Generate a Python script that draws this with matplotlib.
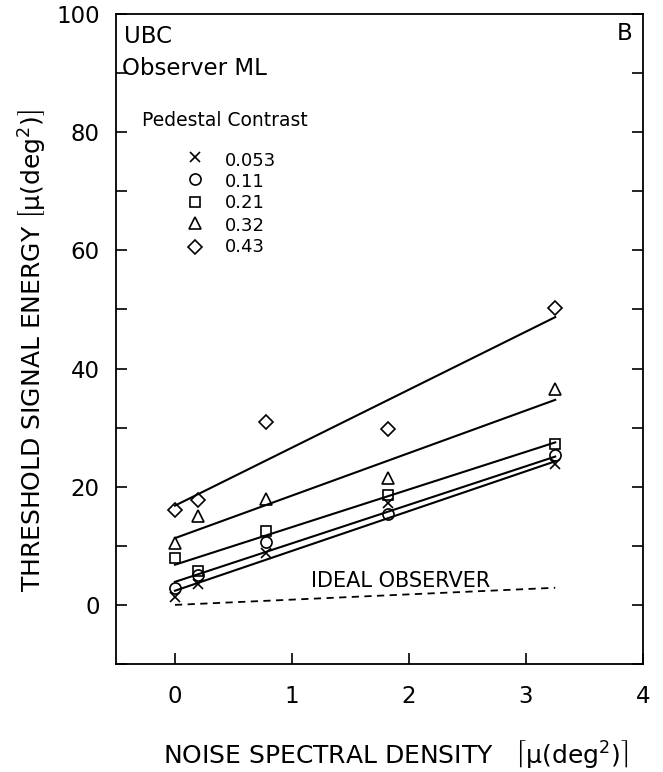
import numpy as np
import matplotlib
matplotlib.use('Agg')
import matplotlib.pyplot as plt
from matplotlib.ticker import MultipleLocator

plt.rcParams['font.family'] = ['DejaVu Sans']
plt.rcParams['mathtext.fontset'] = 'dejavusans'

# datos
ruido = [0.0, 0.2, 0.78, 1.82, 3.25]
contrastes = ['0.053', '0.11', '0.21', '0.32', '0.43']
marcadores = ['x', 'o', 's', '^', 'D']
tamanos = [6.5, 8, 7.5, 8.5, 7]
umbral_053 = [1.4, 3.6, 8.7, 17.3, 23.8]
umbral_011 = [2.9, 5.0, 10.6, 15.4, 25.3]
umbral_021 = [7.9, 5.8, 12.5, 18.6, 27.3]
umbral_032 = [10.4, 15.0, 18.0, 21.4, 36.6]
umbral_043 = [16.0, 17.8, 31.0, 29.7, 50.2]
umbrales = [umbral_053, umbral_011, umbral_021, umbral_032, umbral_043]

# rectas ajustadas (extremos en x=0 y x=3.25)
recta_x = [0.0, 3.25]
rectas_y = [[2.4, 24.3], [3.9, 25.1], [6.8, 27.5], [11.3, 34.7], [16.8, 48.7]]
ideal_y = [0.0, 2.9]

# leyenda
ley_marca_y = [75.8, 72.1, 68.2, 64.6, 60.6]
ley_texto_y = [74.3, 70.7, 67.2, 63.3, 59.7]

figura = plt.figure(figsize=(6.63, 7.72), dpi=100)
lienzo = figura.add_axes([0.1757, 0.1399, 0.7941, 0.842])

for y, m, t in zip(umbrales, marcadores, tamanos):
    lienzo.plot(ruido, y, linestyle='none', marker=m, markersize=t,
                markerfacecolor='none', markeredgecolor='black',
                markeredgewidth=1.2)

for ry in rectas_y:
    lienzo.plot(recta_x, ry, color='black', lw=1.5)

lienzo.plot(recta_x, ideal_y, color='black', lw=1.3, linestyle=(0, (4, 3)))
lienzo.text(1.16, 3.1, 'IDEAL OBSERVER', fontsize=15, va='baseline', ha='left')

lienzo.set_xlim(-0.5, 4)
lienzo.set_ylim(-10, 100)
lienzo.set_xticks([0, 1, 2, 3, 4])
lienzo.set_yticks([0, 20, 40, 60, 80, 100])
lienzo.yaxis.set_minor_locator(MultipleLocator(10))
lienzo.tick_params(axis='both', which='both', direction='in', length=8,
                   width=1.2, labelsize=16.5, right=True, top=False)
lienzo.tick_params(axis='x', pad=15)
lienzo.tick_params(axis='y', pad=12)
for s in lienzo.spines.values():
    s.set_linewidth(1.3)

# textos
lienzo.text(-0.44, 95.1, 'UBC', fontsize=16.5, va='baseline')
lienzo.text(-0.45, 89.7, 'Observer ML', fontsize=16.5, va='baseline')
lienzo.text(3.91, 95.6, 'B', fontsize=16.5, va='baseline', ha='right')
lienzo.text(-0.28, 81.0, 'Pedestal Contrast', fontsize=13.5, va='baseline')

for ym, yt, m, t, c in zip(ley_marca_y, ley_texto_y, marcadores, tamanos, contrastes):
    lienzo.plot([0.17], [ym], linestyle='none', marker=m, markersize=t,
                markerfacecolor='none', markeredgecolor='black',
                markeredgewidth=1.2)
    lienzo.text(0.43, yt, c, fontsize=13, va='baseline')

figura.text(0.246, 0.012,
            r'NOISE SPECTRAL DENSITY   $\left\lceil\mathrm{μ(deg}^2\mathrm{)}\right\rceil$',
            fontsize=18, ha='left', va='baseline')
figura.text(0.05, 0.233,
            r'THRESHOLD SIGNAL ENERGY $\left[\mathrm{μ(deg}^2\mathrm{)}\right]$',
            fontsize=18, ha='center', va='bottom', rotation=90)

figura.savefig('out.png', dpi=100)
